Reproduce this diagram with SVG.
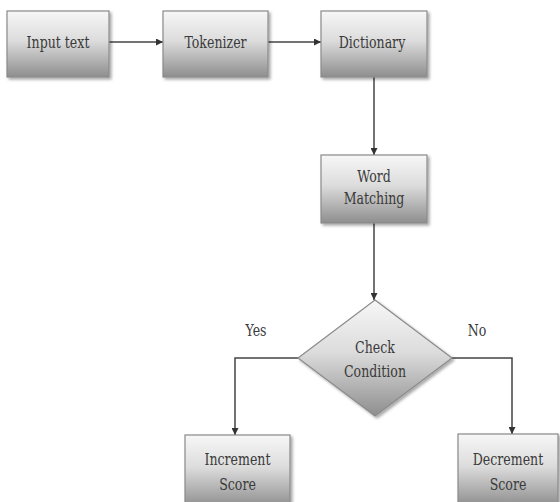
<svg xmlns="http://www.w3.org/2000/svg" width="560" height="502" viewBox="0 0 560 502">
<defs>
<linearGradient id="g" x1="0" y1="0" x2="0" y2="1">
<stop offset="0" stop-color="#f7f7f7"/>
<stop offset="0.45" stop-color="#dcdcdc"/>
<stop offset="1" stop-color="#8e8e8e"/>
</linearGradient>
<filter id="sh" x="-10%" y="-10%" width="130%" height="130%">
<feGaussianBlur in="SourceAlpha" stdDeviation="1.5"/>
<feOffset dx="2" dy="2" result="b"/>
<feComponentTransfer><feFuncA type="linear" slope="0.35"/></feComponentTransfer>
<feMerge><feMergeNode/><feMergeNode in="SourceGraphic"/></feMerge>
</filter>
<marker id="ah" viewBox="0 0 10 10" refX="10" refY="5" markerWidth="7" markerHeight="7" markerUnits="userSpaceOnUse" orient="auto">
<path d="M0,0 L10,5 L0,10 z" fill="#333"/>
</marker>
<style>
.box{fill:url(#g);stroke:#8a8a8a;stroke-width:1.2;filter:url(#sh)}
.t{font-family:'DejaVu Serif','Liberation Serif',serif;font-size:17px;fill:#3a3a3a;text-anchor:middle}
.c{fill:none;stroke:#444;stroke-width:1.5}
</style>
</defs>
<rect width="560" height="502" fill="#fff"/>
<g id="connectors">
<line class="c" x1="109" y1="42" x2="163" y2="42" marker-end="url(#ah)"/>
<line class="c" x1="268" y1="42" x2="321" y2="42" marker-end="url(#ah)"/>
<line class="c" x1="374" y1="77" x2="374" y2="155" marker-end="url(#ah)"/>
<line class="c" x1="374" y1="223" x2="374" y2="300" marker-end="url(#ah)"/>
<polyline class="c" points="298,358 235,358 235,435" marker-end="url(#ah)"/>
<polyline class="c" points="452,358 512,358 512,434" marker-end="url(#ah)"/>
<text class="t" transform="translate(256,336) scale(0.74,1)">Yes</text>
<text class="t" transform="translate(477,336) scale(0.74,1)">No</text>
</g>
<g id="input-text">
<rect class="box" x="7" y="11" width="102" height="66"/>
<text class="t" transform="translate(58,48) scale(0.74,1)">Input text</text>
</g>
<g id="tokenizer">
<rect class="box" x="163" y="11" width="105" height="66"/>
<text class="t" transform="translate(215.5,48) scale(0.74,1)">Tokenizer</text>
</g>
<g id="dictionary">
<rect class="box" x="321" y="11" width="106" height="66"/>
<text class="t" transform="translate(372,48) scale(0.74,1)">Dictionary</text>
</g>
<g id="word-matching">
<rect class="box" x="321" y="155" width="106" height="68"/>
<text class="t" transform="translate(374,182) scale(0.74,1)">Word</text>
<text class="t" transform="translate(374,204) scale(0.74,1)">Matching</text>
</g>
<g id="check-condition">
<polygon class="box" points="375,300 452,358 375,416 298,358"/>
<text class="t" transform="translate(375,353) scale(0.74,1)">Check</text>
<text class="t" transform="translate(375,377) scale(0.74,1)">Condition</text>
</g>
<g id="increment-score">
<rect class="box" x="185" y="435" width="105" height="72"/>
<text class="t" transform="translate(237.5,465) scale(0.74,1)">Increment</text>
<text class="t" transform="translate(237.5,490) scale(0.74,1)">Score</text>
</g>
<g id="decrement-score">
<rect class="box" x="458" y="434" width="100" height="72"/>
<text class="t" transform="translate(508,465) scale(0.74,1)">Decrement</text>
<text class="t" transform="translate(508,490) scale(0.74,1)">Score</text>
</g>
</svg>
